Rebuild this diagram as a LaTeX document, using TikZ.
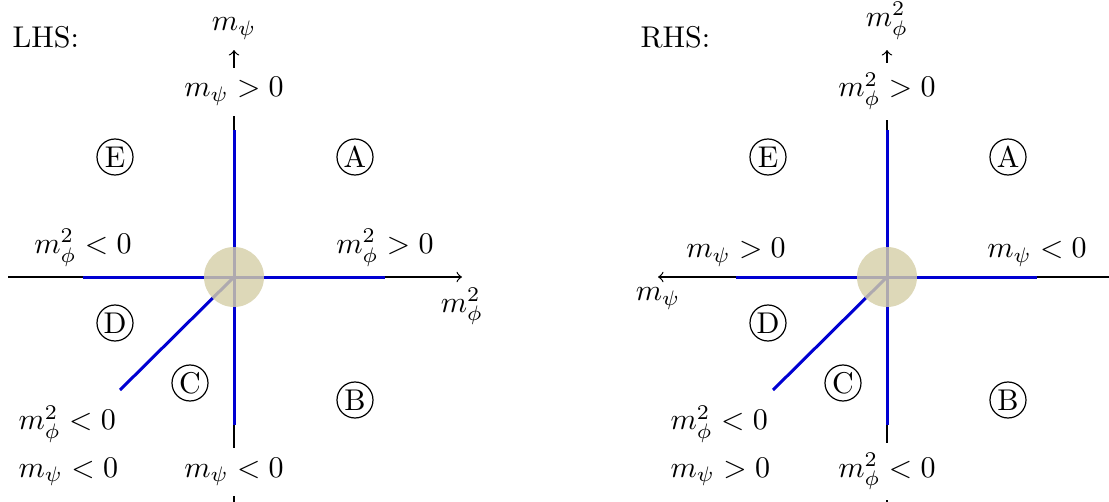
\documentclass[tikz,border=0pt]{standalone}
\usepackage{amsmath, amssymb}
\usepackage{tikz}
\usepackage{xcolor}

\definecolor{branchblue}{RGB}{0,0,210}
\definecolor{vacuumtan}{RGB}{213,207,168}
\tikzset{
  branch/.style={color=branchblue, line width=1pt},
  region/.style={draw, circle, inner sep=0.5pt, minimum size=12pt},
  axislabel/.style={fill=white, anchor=base},
  vacuum/.style={circle, fill=vacuumtan, fill opacity=0.82, minimum size=20pt, inner sep=0pt},
}

\begin{document}
\begin{tikzpicture}[x=0.3333pt,y=0.3333pt,yscale=-1,xscale=1]
\useasboundingbox (0,0) rectangle (1109,502);

%%%%% LHS panel
\coordinate (L0) at (234,277);
\coordinate (Ltip) at (234,50);
\coordinate (Lbot) at (234,502);
\coordinate (Lwest) at (8,277);
\coordinate (Ltipx) at (462,277);
\coordinate (Lhw) at (83,277);
\coordinate (Lhe) at (385,277);
\coordinate (Lvn) at (234,130);
\coordinate (Lvs) at (234,425);
\coordinate (Ldiag) at (120,390);

%Straight Lines [axes]
\draw [->] (Lbot) -- (Ltip) ;
\draw [->] (Lwest) -- (Ltipx) ;

% Text Node
\draw (Ltip) node [above] (LyName) {$m_\psi$};
% Text Node
\draw (Ltipx) node [below] (LxName) {$m_\phi^2$};
% Text Node
\draw (234,97) node [axislabel] (LyPos) {$m_\psi > 0$};
% Text Node
\draw (234,477) node [axislabel] (LyNeg) {$m_\psi < 0$};
% Text Node
\draw (Lhw) node [above] (LxNeg) {$m_\phi^2 < 0$};
% Text Node
\draw (Lhe) node [above] (LxPos) {$m_\phi^2 > 0$};
% Text Node
\draw (18,430) node [anchor=base west, inner sep=0pt] (LdPhi) {$m_\phi^2 < 0$};
% Text Node
\draw (18,477) node [anchor=base west, inner sep=0pt] (LdPsi) {$m_\psi < 0$};
% Text Node
\draw (12,47) node [anchor=base west, inner sep=0pt] (Lname) {LHS:};

%Straight Lines [branches]
\draw [branch] (Lhw) -- (Lhe) ;
\draw [branch] (Lvn) -- (Lvs) ;
\draw [branch] (L0) -- (Ldiag) ;

% Vacuum disc
\node [vacuum] (Lvac) at (L0) {};

% Regions
\node [region] (LA) at (355,157) {A};
\node [region] (LB) at (355,400) {B};
\node [region] (LC) at (190,383) {C};
\node [region] (LD) at (115,323) {D};
\node [region] (LE) at (115,157) {E};

%%%%% RHS panel
\coordinate (R0) at (887,277);
\coordinate (Rtip) at (887,50);
\coordinate (Rbot) at (887,502);
\coordinate (Reast) at (1109,277);
\coordinate (Rtipx) at (658,277);
\coordinate (Rhw) at (736,277);
\coordinate (Rhe) at (1037,277);
\coordinate (Rvn) at (887,130);
\coordinate (Rvs) at (887,425);
\coordinate (Rdiag) at (773,390);

%Straight Lines [axes]
\draw [->] (Rbot) -- (Rtip) ;
\draw [->] (Reast) -- (Rtipx) ;

% Text Node
\draw (Rtip) node [above] (RyName) {$m_\phi^2$};
% Text Node
\draw (Rtipx) node [below] (RxName) {$m_\psi$};
% Text Node
\draw (887,97) node [axislabel] (RyPos) {$m_\phi^2 > 0$};
% Text Node
\draw (887,477) node [axislabel] (RyNeg) {$m_\phi^2 < 0$};
% Text Node
\draw (Rhw) node [above] (RxPos) {$m_\psi > 0$};
% Text Node
\draw (Rhe) node [above] (RxNeg) {$m_\psi < 0$};
% Text Node
\draw (670,430) node [anchor=base west, inner sep=0pt] (RdPhi) {$m_\phi^2 < 0$};
% Text Node
\draw (670,477) node [anchor=base west, inner sep=0pt] (RdPsi) {$m_\psi > 0$};
% Text Node
\draw (640,47) node [anchor=base west, inner sep=0pt] (Rname) {RHS:};

%Straight Lines [branches]
\draw [branch] (Rhw) -- (Rhe) ;
\draw [branch] (Rvn) -- (Rvs) ;
\draw [branch] (R0) -- (Rdiag) ;

% Vacuum disc
\node [vacuum] (Rvac) at (R0) {};

% Regions
\node [region] (RA) at (1008,157) {A};
\node [region] (RB) at (1008,400) {B};
\node [region] (RC) at (843,383) {C};
\node [region] (RD) at (768,323) {D};
\node [region] (RE) at (768,157) {E};
\end{tikzpicture}
\end{document}
